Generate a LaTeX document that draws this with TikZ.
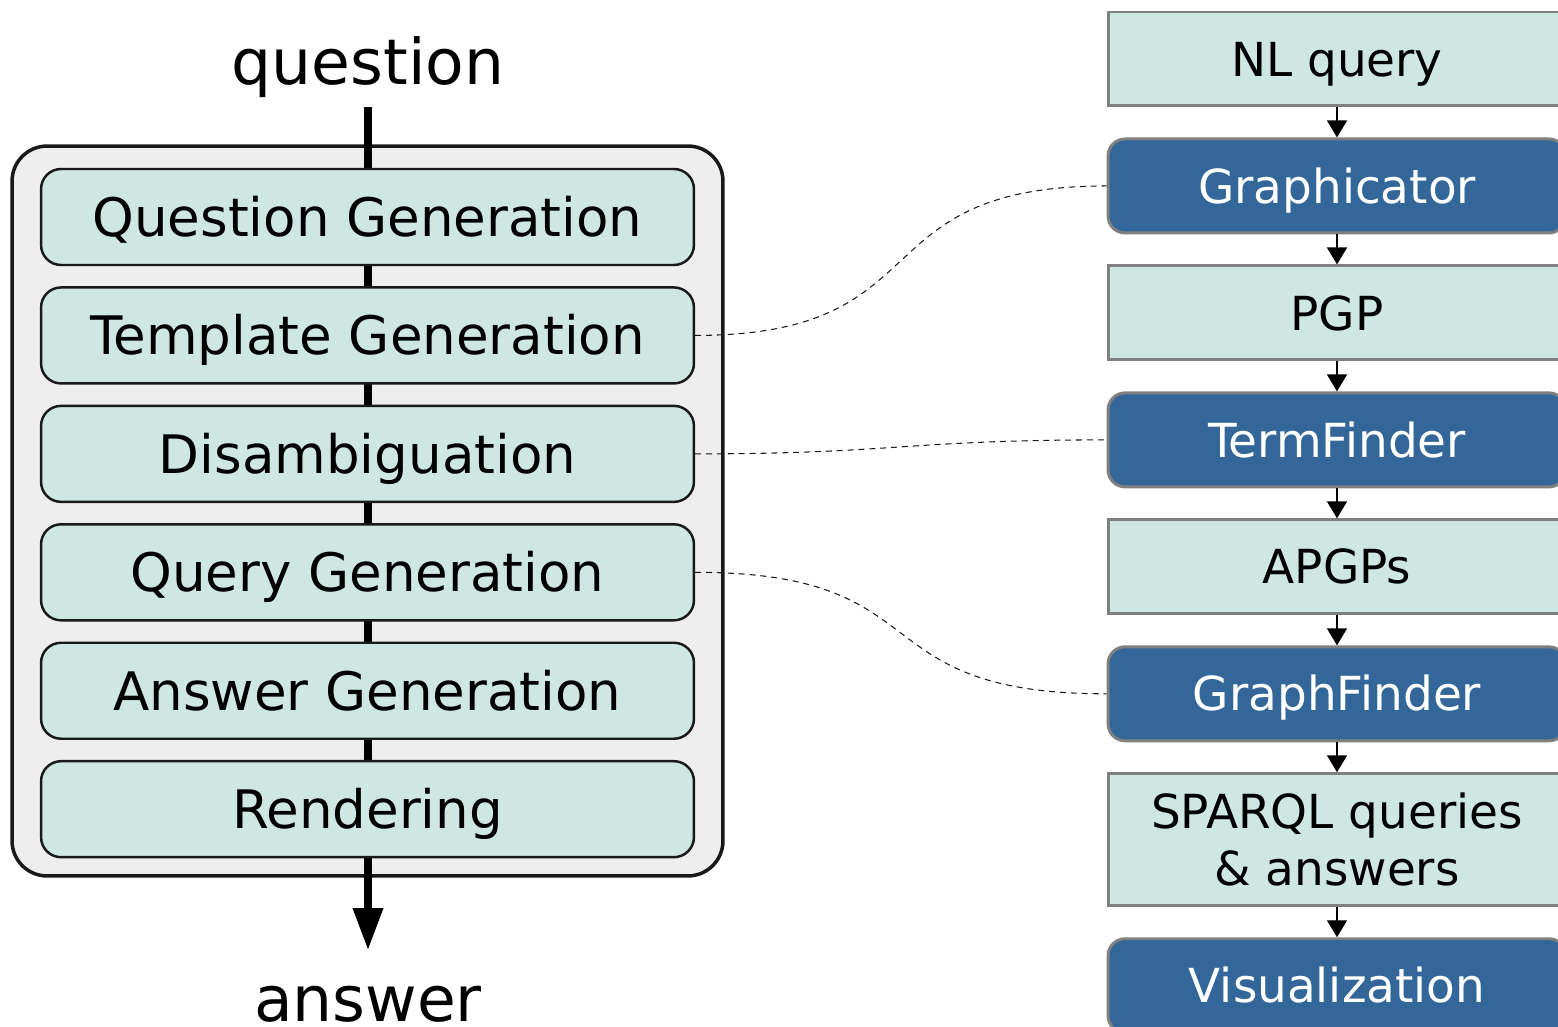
\documentclass[tikz,border=0pt]{standalone}
\usepackage{fontspec}
\setmainfont{DejaVu Sans}
\usetikzlibrary{arrows.meta,positioning}
\definecolor{stagefill}{HTML}{CFE7E3}
\definecolor{toolblue}{HTML}{336699}
\definecolor{framegray}{HTML}{EEEEEE}
\definecolor{edgegray}{HTML}{808080}
\tikzset{
    % Define style for the frame round the pipeline
    frame/.style={
           rectangle,
           rounded corners=0.7cm,
           draw=black!90, line width=2pt,
           fill=framegray,
           minimum width=14.22cm,
           minimum height=14.6cm},
    % Define style for the pipeline boxes
    stage/.style={
           rectangle,
           rounded corners=0.4cm,
           draw=black!90, line width=1.4pt,
           fill=stagefill,
           inner sep=0pt,
           minimum width=13.06cm,
           minimum height=1.92cm,
           text height=22pt, text depth=0pt,
           font=\fontsize{30.2}{36}\selectfont},
    % Define style for the data boxes on the right
    datum/.style={
           rectangle,
           draw=edgegray, line width=1.7pt,
           fill=stagefill,
           inner sep=0pt,
           align=center,
           minimum width=9.16cm,
           minimum height=1.88cm,
           text height=19.5pt, text depth=0pt,
           font=\fontsize{26.7}{32}\selectfont},
    % Define style for the tool boxes on the right
    tool/.style={
           datum,
           rounded corners=0.34cm,
           fill=toolblue,
           text=white},
    % Define arrow styles
    flow/.style={
           -{Triangle[length=0.84cm,width=0.58cm]},
           line width=4pt},
    pil/.style={
           -{Triangle[length=0.34cm,width=0.4cm]},
           line width=0.8pt},
    link/.style={
           black!90,
           line width=0.6pt,
           dash pattern=on 3.4pt off 2.8pt}
}
\newcommand*{\snode}[3]{\node[stage, below=0.4cm of #1] (#2) {#3};}
\newcommand*{\rnode}[4]{\node[#1, below=0.6cm of #2] (#3) {#4};}

\begin{document}
\begin{tikzpicture}[x=0.02cm,y=-0.02cm]
\useasboundingbox (0,0) rectangle (1558,1027);

% First the frame and the main flow behind the boxes
\node[frame] (pipe) at (367.5,511) {};
\coordinate (qin) at (368,107);
\coordinate (aout) at (368,950);
\draw[flow] (qin) -- (aout);
\node[anchor=base, font=\fontsize{35.9}{42}\selectfont] (question) at (368,85) {question};
\node[anchor=base, font=\fontsize{35.9}{42}\selectfont] (answer) at (368,1021) {answer};

% Pipeline stages
\node[stage] (qg) at (367.5,217) {Question Generation};
\snode{qg}{tg}{Template Generation}
\snode{tg}{dis}{Disambiguation}
\snode{dis}{qry}{Query Generation}
\snode{qry}{ans}{Answer Generation}
\snode{ans}{ren}{Rendering}

% Right column
\node[datum] (nl) at (1337,59) {NL query};
\rnode{tool}{nl}{gc}{Graphicator}
\rnode{datum}{gc}{pgp}{PGP}
\rnode{tool}{pgp}{tf}{TermFinder}
\rnode{datum}{tf}{apgp}{APGPs}
\rnode{tool}{apgp}{gf}{GraphFinder}
\node[datum, minimum height=2.64cm, text height=51.5pt, below=0.6cm of gf] (sparql) {SPARQL queries\\\& answers};
\rnode{tool}{sparql}{vis}{Visualization}

% Now connect the nodes
\draw[pil] (nl) -- (gc);
\draw[pil] (gc) -- (pgp);
\draw[pil] (pgp) -- (tf);
\draw[pil] (tf) -- (apgp);
\draw[pil] (apgp) -- (gf);
\draw[pil] (gf) -- (sparql);
\draw[pil] (sparql) -- (vis);

% Dashed links between stages and tools
\draw[link] (tg.east) .. controls +(250,0) and +(-250,0) .. (gc.west);
\draw[link] (dis.east) .. controls +(200,0) and +(-200,0) .. (tf.west);
\draw[link] (qry.east) .. controls +(250,0) and +(-250,0) .. (gf.west);
\end{tikzpicture}
\end{document}
